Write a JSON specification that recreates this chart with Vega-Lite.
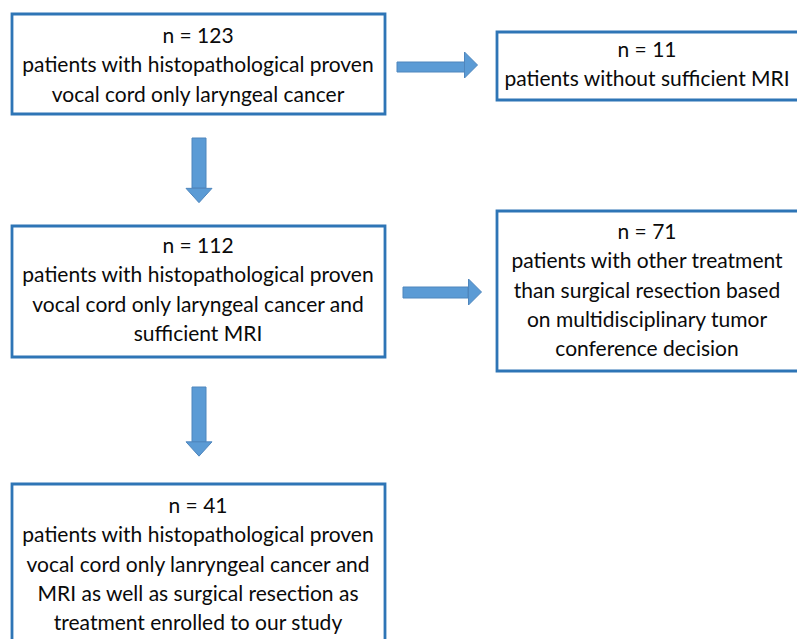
{
  "$schema": "https://vega.github.io/schema/vega-lite/v6.json",
  "width": 797,
  "height": 639,
  "autosize": {"type": "none"},
  "padding": 0,
  "background": "white",
  "config": {"view": {"stroke": null}},
  "datasets": {
    "boxes": [
      {"id": "b1", "x1": 12, "x2": 385, "y1": 14, "y2": 114, "cx": 198, "cy": 37, "label": "n = 123\npatients with histopathological proven\nvocal cord only laryngeal cancer"},
      {"id": "b2", "x1": 497, "x2": 800, "y1": 32, "y2": 100, "cx": 647, "cy": 51, "label": "n = 11\npatients without sufficient MRI"},
      {"id": "b3", "x1": 12, "x2": 385, "y1": 226, "y2": 357, "cx": 198, "cy": 247, "label": "n = 112\npatients with histopathological proven\nvocal cord only laryngeal cancer and\nsufficient MRI"},
      {"id": "b4", "x1": 497, "x2": 800, "y1": 211, "y2": 371, "cx": 647, "cy": 233, "label": "n = 71\npatients with other treatment\nthan surgical resection based\non multidisciplinary tumor\nconference decision"},
      {"id": "b5", "x1": 12, "x2": 385, "y1": 484, "y2": 648, "cx": 198, "cy": 507, "label": "n = 41\npatients with histopathological proven\nvocal cord only lanryngeal cancer and\nMRI as well as surgical resection as\ntreatment enrolled to our study"}
    ],
    "arrows": [
      {"dir": "right", "sx1": 397, "sx2": 465, "sy1": 62, "sy2": 72, "hx": 471, "hy": 65},
      {"dir": "right", "sx1": 403, "sx2": 468, "sy1": 287, "sy2": 298, "hx": 475, "hy": 292},
      {"dir": "down", "sx1": 192, "sx2": 206, "sy1": 138, "sy2": 188, "hx": 199, "hy": 195.5},
      {"dir": "down", "sx1": 192, "sx2": 206, "sy1": 387, "sy2": 442, "hx": 199, "hy": 449}
    ]
  },
  "layer": [
    {
      "data": {"name": "boxes"},
      "mark": {"type": "rect", "fill": "white", "stroke": "#2e75b6", "strokeWidth": 2.8},
      "encoding": {
        "x": {"field": "x1", "type": "quantitative", "scale": {"domain": [0, 797], "nice": false, "zero": false}, "axis": null},
        "x2": {"field": "x2"},
        "y": {"field": "y1", "type": "quantitative", "scale": {"domain": [0, 639], "nice": false, "zero": false, "reverse": true}, "axis": null},
        "y2": {"field": "y2"}
      }
    },
    {
      "data": {"name": "arrows"},
      "mark": {"type": "rect", "fill": "#5b9bd5", "stroke": "#4f86bd", "strokeWidth": 1},
      "encoding": {
        "x": {"field": "sx1", "type": "quantitative"},
        "x2": {"field": "sx2"},
        "y": {"field": "sy1", "type": "quantitative"},
        "y2": {"field": "sy2"}
      }
    },
    {
      "data": {"name": "arrows"},
      "mark": {"type": "point", "filled": true, "fill": "#5b9bd5", "stroke": "#4f86bd", "strokeWidth": 1, "opacity": 1, "size": 676},
      "encoding": {
        "x": {"field": "hx", "type": "quantitative"},
        "y": {"field": "hy", "type": "quantitative"},
        "shape": {"field": "dir", "type": "nominal", "scale": {"domain": ["right", "down"], "range": ["M-0.5,-1L0.5,0L-0.5,1Z", "M-1,-0.55L0,0.55L1,-0.55Z"]}, "legend": null}
      }
    },
    {
      "data": {"name": "boxes"},
      "mark": {"type": "text", "font": "Lato", "fontSize": 21, "lineHeight": 29.3, "color": "#0a0a0a", "align": "center", "baseline": "middle", "lineBreak": "\n"},
      "encoding": {
        "x": {"field": "cx", "type": "quantitative"},
        "y": {"field": "cy", "type": "quantitative"},
        "text": {"field": "label", "type": "nominal"}
      }
    }
  ]
}
